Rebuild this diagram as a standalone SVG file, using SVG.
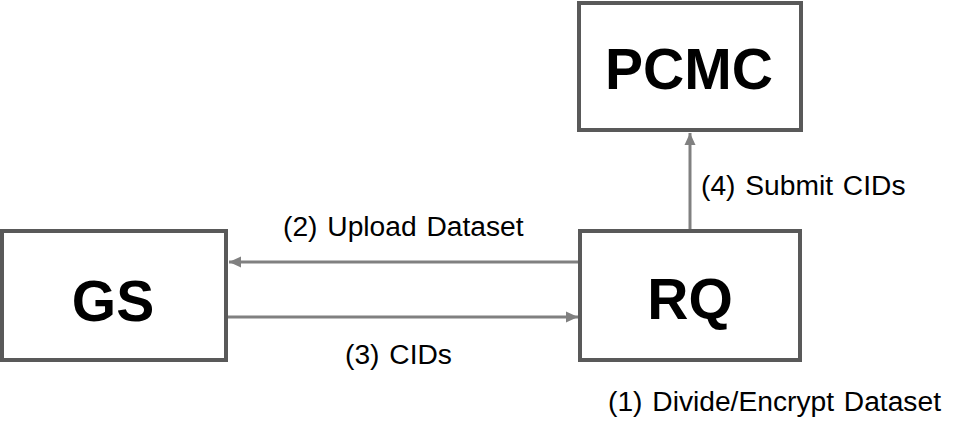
<svg xmlns="http://www.w3.org/2000/svg" width="967" height="439" viewBox="0 0 967 439">
<style>
.box{fill:#fff;stroke:#595959;stroke-width:4}
.big{font-family:"Liberation Sans",Arial,sans-serif;font-weight:bold;font-size:57px;fill:#000;text-anchor:middle}
.lbl{font-family:"Liberation Sans",Arial,sans-serif;font-size:28.2px;word-spacing:2px;fill:#000}
.con{stroke:#808080;stroke-width:3;fill:none;marker-end:url(#ah)}
</style>
<defs>
<marker id="ah" markerUnits="userSpaceOnUse" markerWidth="12" markerHeight="12" viewBox="0 0 12 12" refX="12" refY="6" orient="auto">
<path d="M0,0.5 L12,6 L0,11.5 Z" fill="#808080"/>
</marker>
</defs>
<rect width="967" height="439" fill="#fff"/>
<g id="connectors">
<line class="con" x1="690" y1="229" x2="690" y2="133"/>
<line class="con" x1="578" y1="262" x2="229" y2="262"/>
<line class="con" x1="228" y1="317" x2="578" y2="317"/>
</g>
<g id="PCMC">
<rect class="box" x="579" y="3" width="222" height="127"/>
<text class="big" x="689" y="89">PCMC</text>
</g>
<g id="GS">
<rect class="box" x="2" y="231" width="224" height="129"/>
<text class="big" x="113" y="321">GS</text>
</g>
<g id="RQ">
<rect class="box" x="580" y="231" width="220" height="129"/>
<text class="big" x="690" y="319">RQ</text>
</g>
<g id="labels">
<text class="lbl" x="283" y="236">(2) Upload Dataset</text>
<text class="lbl" x="345" y="364">(3) CIDs</text>
<text class="lbl" x="701" y="195">(4) Submit CIDs</text>
<text class="lbl" x="608" y="411">(1) Divide/Encrypt Dataset</text>
</g>
</svg>
